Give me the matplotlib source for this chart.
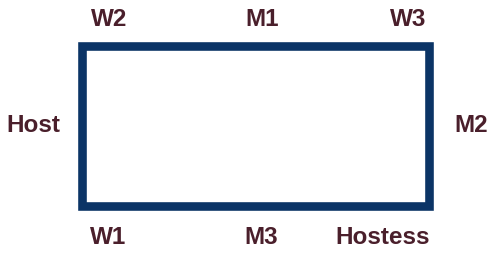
import matplotlib.pyplot as plt
from matplotlib.patches import Rectangle

# seating layout: table corners (pixel units) and seat labels
table_x = [82.0, 429.0]
table_y = [46.0, 205.5]
seat_labels = ["W2", "M1", "W3", "Host", "M2", "W1", "M3", "Hostess"]
seat_x = [109, 262, 408, 33, 471, 108, 261, 383]
seat_y = [19, 19, 19, 125, 126, 237, 238, 238]

TEXT_COL = "#4a1f2b"
LINE_COL = "#0b3466"

fig = plt.figure(figsize=(4.91, 2.54), dpi=100)
ax = fig.add_axes([0, 0, 1, 1])
ax.set_xlim(0, 491)
ax.set_ylim(254, 0)
ax.axis("off")

ax.add_patch(Rectangle((table_x[0], table_y[0]),
                       table_x[1] - table_x[0], table_y[1] - table_y[0],
                       fill=False, edgecolor=LINE_COL, linewidth=6.2,
                       joinstyle="miter"))

for lab, x, y in zip(seat_labels, seat_x, seat_y):
    ax.text(x, y, lab, ha="center", va="center", fontsize=17.5,
            fontweight="bold", color=TEXT_COL, family="Liberation Sans")

fig.savefig("out.png", dpi=100)
